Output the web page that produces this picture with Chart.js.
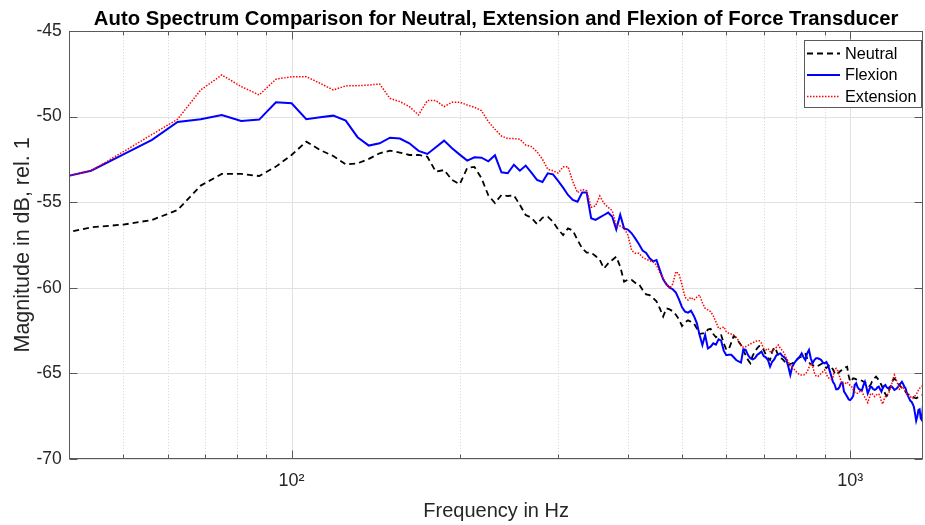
<!DOCTYPE html>
<html>
<head>
<meta charset="utf-8">
<script src="https://cdn.jsdelivr.net/npm/chart.js@4.4.1/dist/chart.umd.min.js"></script>
<style>
html,body{margin:0;padding:0;background:#ffffff;}
canvas{display:block;}
</style>
</head>
<body>
<canvas id="c" width="925" height="525"></canvas>
<script>
// ---- data (Hz bins and magnitudes in dB rel. 1) ----
const frequencies = [
37.5, 43.75, 50, 56.25, 62.5, 68.75, 75, 81.25, 87.5, 93.75,
100, 106.25, 112.5, 118.75, 125, 131.25, 137.5, 143.75, 150, 156.25,
162.5, 168.75, 175, 181.25, 187.5, 193.75, 200, 206.25, 212.5, 218.75,
225, 231.25, 237.5, 243.75, 250, 256.25, 262.5, 268.75, 275, 281.25,
287.5, 293.75, 300, 306.25, 312.5, 318.75, 325, 331.25, 337.5, 343.75,
350, 356.25, 362.5, 368.75, 375, 381.25, 387.5, 393.75, 400, 406.25,
412.5, 418.75, 425, 431.25, 437.5, 443.75, 450, 456.25, 462.5, 468.75,
475, 481.25, 487.5, 493.75, 500, 506.25, 512.5, 518.75, 525, 531.25,
537.5, 543.75, 550, 556.25, 562.5, 568.75, 575, 581.25, 587.5, 593.75,
600, 606.25, 612.5, 618.75, 625, 631.25, 637.5, 643.75, 650, 656.25,
662.5, 668.75, 675, 681.25, 687.5, 693.75, 700, 706.25, 712.5, 718.75,
725, 731.25, 737.5, 743.75, 750, 756.25, 762.5, 768.75, 775, 781.25,
787.5, 793.75, 800, 806.25, 812.5, 818.75, 825, 831.25, 837.5, 843.75,
850, 856.25, 862.5, 868.75, 875, 881.25, 887.5, 893.75, 900, 906.25,
912.5, 918.75, 925, 931.25, 937.5, 943.75, 950, 956.25, 962.5, 968.75,
975, 981.25, 987.5, 993.75, 1000, 1006.25, 1012.5, 1018.75, 1025, 1031.25,
1037.5, 1043.75, 1050, 1056.25, 1062.5, 1068.75, 1075, 1081.25, 1087.5, 1093.75,
1100, 1106.25, 1112.5, 1118.75, 1125, 1131.25, 1137.5, 1143.75, 1150, 1156.25,
1162.5, 1168.75, 1175, 1181.25, 1187.5, 1193.75, 1200, 1206.25, 1212.5, 1218.75,
1225, 1231.25, 1237.5, 1243.75, 1250, 1256.25, 1262.5, 1268.75, 1275, 1281.25,
1287.5, 1293.75, 1300, 1306.25, 1312.5, 1318.75, 1325, 1331.25, 1337.5, 1343.75,
1350
];

const neutral = [
-56.93, -56.47, -56.31, -56.04, -55.46, -54.03, -53.35, -53.35, -53.47, -52.92,
-52.24, -51.46, -51.95, -52.30, -52.79, -52.73, -52.47, -52.14, -51.99, -52.10,
-52.24, -52.24, -52.34, -53.22, -53.12, -53.70, -53.95, -53.00, -52.94, -53.60,
-54.60, -55.05, -54.58, -54.64, -54.60, -55.16, -55.75, -55.91, -56.28, -55.91,
-55.85, -56.14, -56.59, -56.92, -56.53, -56.66, -57.21, -57.70, -57.95, -57.95,
-58.15, -58.38, -58.87, -58.58, -58.38, -58.19, -58.77, -59.65, -59.53, -59.55,
-59.72, -59.80, -60.13, -60.39, -60.43, -60.60, -60.80, -61.21, -61.69, -61.21,
-61.27, -61.38, -61.58, -61.85, -62.24, -62.03, -61.91, -61.99, -62.08, -62.38,
-62.71, -62.67, -62.67, -62.45, -62.40, -62.71, -62.90, -62.77, -62.77, -63.25,
-63.62, -63.60, -63.21, -62.81, -62.96, -63.16, -63.35, -63.68, -63.95, -64.23,
-64.42, -63.99, -63.74, -63.55, -63.41, -63.45, -63.64, -63.93, -64.13, -64.23,
-63.74, -63.49, -63.68, -63.99, -64.13, -64.17, -64.31, -64.42, -64.52, -64.46,
-64.42, -64.36, -64.27, -64.15, -64.07, -64.03, -63.93, -63.88, -64.13, -64.38,
-64.46, -64.52, -64.58, -64.62, -64.58, -64.52, -64.46, -64.42, -64.58, -64.70,
-64.62, -64.52, -64.66, -64.77, -64.97, -65.10, -65.01, -64.93, -64.85, -64.81,
-64.73, -64.66, -64.62, -65.16, -65.50, -65.40, -65.30, -65.32, -65.36, -65.40,
-65.40, -65.42, -65.44, -65.50, -65.53, -65.59, -65.63, -65.75, -65.69, -65.50,
-65.40, -65.28, -65.20, -65.30, -65.40, -65.55, -65.69, -65.88, -66.08, -66.22,
-66.33, -66.18, -65.94, -65.75, -65.59, -65.36, -65.32, -65.40, -65.50, -65.59,
-65.69, -65.79, -65.85, -65.90, -65.98, -66.08, -66.18, -66.24, -66.27, -66.31,
-66.37, -66.39, -66.41, -66.45, -66.47, -66.43, -66.41, -66.37, -66.33, -66.29,
-66.27
];

const flexion = [
-53.66, -53.16, -52.20, -51.36, -50.31, -50.15, -49.90, -50.25, -50.17, -49.16,
-49.22, -50.15, -50.04, -49.94, -50.23, -51.20, -51.69, -51.56, -51.23, -51.28,
-51.56, -52.00, -52.18, -51.79, -51.40, -51.85, -52.22, -52.57, -52.38, -52.40,
-52.61, -52.26, -53.25, -53.31, -52.81, -53.16, -52.86, -53.27, -53.70, -53.82,
-53.31, -53.37, -53.76, -54.15, -54.58, -54.87, -54.97, -54.44, -54.44, -55.94,
-56.04, -55.89, -55.75, -55.61, -55.85, -56.59, -55.73, -56.53, -56.60, -56.82,
-57.13, -57.46, -57.83, -57.97, -58.28, -58.46, -58.38, -58.96, -59.51, -59.80,
-60.00, -60.09, -60.29, -60.68, -61.15, -61.40, -61.46, -61.34, -61.65, -62.05,
-62.77, -63.35, -62.77, -63.55, -63.45, -63.25, -63.33, -63.02, -63.10, -63.68,
-63.95, -63.92, -63.92, -64.07, -64.23, -64.31, -64.38, -63.60, -63.64, -63.94,
-64.13, -64.19, -64.13, -63.94, -63.84, -63.74, -64.00, -64.07, -64.23, -64.62,
-64.33, -64.19, -63.96, -63.88, -63.84, -64.00, -64.07, -64.23, -64.62, -65.10,
-64.62, -64.42, -64.27, -64.13, -64.03, -63.84, -64.07, -64.23, -63.84, -63.64,
-64.13, -64.42, -64.23, -64.13, -64.13, -64.17, -64.23, -64.38, -64.42, -64.35,
-64.52, -64.85, -65.16, -65.50, -65.65, -65.94, -65.94, -65.83, -65.59, -65.55,
-66.08, -66.22, -66.37, -66.53, -66.57, -66.47, -66.33, -65.69, -65.59, -65.83,
-65.94, -65.98, -65.98, -65.69, -65.50, -65.79, -66.18, -65.98, -65.79, -65.83,
-65.94, -65.98, -65.94, -65.83, -65.79, -65.94, -66.08, -65.88, -65.75, -65.69,
-65.83, -65.88, -65.83, -65.79, -65.79, -65.88, -65.98, -65.94, -65.88, -65.79,
-65.69, -65.59, -65.50, -65.63, -65.79, -65.88, -66.14, -66.33, -66.47, -66.61,
-66.66, -66.80, -66.96, -67.35, -67.78, -67.54, -67.15, -67.11, -67.64, -67.74,
-66.86
];

const extension = [
-53.66, -53.16, -52.05, -51.04, -50.15, -48.44, -47.56, -48.24, -48.73, -47.81,
-47.66, -47.66, -48.05, -48.44, -48.20, -48.19, -48.15, -48.09, -48.93, -49.12,
-49.41, -49.90, -49.06, -49.06, -49.41, -49.16, -49.15, -49.32, -49.45, -49.65,
-50.29, -50.74, -51.13, -51.28, -51.28, -51.32, -51.66, -51.75, -52.05, -52.49,
-53.08, -53.16, -53.30, -52.94, -52.92, -53.80, -54.44, -54.25, -54.33, -55.30,
-55.22, -54.64, -55.07, -55.30, -55.50, -56.39, -56.39, -56.53, -56.92, -57.83,
-57.99, -57.99, -58.22, -58.34, -58.42, -58.48, -58.67, -59.12, -59.45, -59.78,
-60.04, -59.78, -59.06, -59.20, -59.84, -60.56, -60.72, -60.56, -60.72, -60.56,
-60.43, -60.88, -61.21, -61.30, -61.40, -61.65, -61.99, -62.38, -62.38, -62.28,
-62.57, -62.67, -62.71, -62.79, -62.90, -63.10, -63.35, -63.49, -63.45, -63.37,
-63.29, -63.23, -63.16, -63.10, -63.10, -63.25, -63.55, -63.64, -63.56, -63.74,
-63.80, -63.58, -63.49, -63.35, -63.55, -63.68, -63.84, -64.13, -64.33, -64.58,
-64.66, -64.77, -64.91, -65.01, -65.10, -65.10, -65.10, -65.05, -64.91, -64.66,
-64.42, -64.58, -64.97, -65.16, -65.20, -65.10, -65.01, -64.91, -64.81, -65.05,
-65.26, -65.30, -65.36, -65.24, -64.81, -64.72, -64.85, -65.16, -65.44, -65.63,
-65.67, -65.59, -65.51, -65.63, -65.71, -65.79, -65.98, -66.10, -66.18, -66.18,
-66.12, -66.02, -66.08, -66.27, -66.41, -66.57, -66.72, -66.47, -66.22, -66.18,
-66.29, -66.37, -66.29, -66.22, -66.22, -66.37, -66.66, -66.80, -66.53, -66.37,
-66.29, -66.22, -66.08, -65.83, -65.59, -65.30, -65.10, -65.30, -65.50, -65.69,
-65.94, -65.88, -65.79, -65.83, -65.98, -66.08, -66.18, -66.29, -66.37, -66.37,
-66.43, -66.47, -66.43, -66.33, -66.22, -66.14, -65.98, -65.88, -65.83, -65.79,
-65.69
];

const seriesNames = ['Neutral', 'Flexion', 'Extension'];
const yTickValues = [-70, -65, -60, -55, -50, -45];
const xLabelTicks = [100, 1000];
const xLabelText = ['10\u00B2', '10\u00B3'];
const xMinorGrid = [50, 60, 70, 80, 90, 200, 300, 400, 500, 600, 700, 800, 900];
const xMajorGrid = [100, 1000];

// ---- styling ----
const FONT = "'Liberation Sans', Arial, Helvetica, sans-serif";
const TXT = '#262626';
const styles = [
  {color: '#000000', width: 1.8, dash: [6, 4]},
  {color: '#0000ff', width: 2, dash: []},
  {color: '#ff0000', width: 1.5, dash: [1.5, 1.5]}
];
const valueSets = [neutral, flexion, extension];

const datasets = valueSets.map((vals, k) => ({
  label: seriesNames[k],
  data: frequencies.map((f, i) => ({x: f, y: vals[i]})),
  borderColor: styles[k].color,
  backgroundColor: styles[k].color,
  borderWidth: styles[k].width,
  borderDash: styles[k].dash,
  pointRadius: 0,
  tension: 0,
  fill: false,
  order: 2 - k
}));

function seg(ctx, x1, y1, x2, y2) {
  ctx.beginPath(); ctx.moveTo(x1, y1); ctx.lineTo(x2, y2); ctx.stroke();
}

const framePlugin = {
  id: 'matlabFrame',
  beforeDatasetsDraw(chart) {
    const {ctx, chartArea: a, scales} = chart;
    const xs = scales.x, ys = scales.y;
    ctx.save();
    ctx.lineWidth = 1;
    ctx.strokeStyle = '#e2e2e2';
    yTickValues.forEach(v => {
      const py = Math.round(ys.getPixelForValue(v)) + 0.5;
      seg(ctx, a.left, py, a.right, py);
    });
    ctx.strokeStyle = '#d4d4d4';
    ctx.setLineDash([1, 2]);
    xMinorGrid.forEach(v => {
      const px = Math.round(xs.getPixelForValue(v)) + 0.5;
      seg(ctx, px, a.top, px, a.bottom);
    });
    ctx.setLineDash([]);
    ctx.strokeStyle = '#e2e2e2';
    xMajorGrid.forEach(v => {
      const px = Math.round(xs.getPixelForValue(v)) + 0.5;
      seg(ctx, px, a.top, px, a.bottom);
    });
    ctx.restore();
  },
  afterDatasetsDraw(chart) {
    const {ctx, chartArea: a, scales} = chart;
    const xs = scales.x, ys = scales.y;
    ctx.save();
    ctx.lineWidth = 1;
    ctx.strokeStyle = '#5a5a5a';
    const L = Math.round(a.left) + 0.5, R = Math.round(a.right) - 0.5;
    const T = Math.round(a.top) + 0.5, B = Math.round(a.bottom) - 0.5;
    ctx.strokeRect(L, T, R - L, B - T);
    yTickValues.forEach(v => {
      const py = Math.round(ys.getPixelForValue(v)) + 0.5;
      seg(ctx, L, py, L + 8, py);
      seg(ctx, R, py, R - 8, py);
    });
    xMinorGrid.forEach(v => {
      const px = Math.round(xs.getPixelForValue(v)) + 0.5;
      seg(ctx, px, B, px, B - 4);
      seg(ctx, px, T, px, T + 4);
    });
    xMajorGrid.forEach(v => {
      const px = Math.round(xs.getPixelForValue(v)) + 0.5;
      seg(ctx, px, B, px, B - 8);
      seg(ctx, px, T, px, T + 8);
    });
    // legend
    const bx = 804.5, by = 40.5, bw = 117, bh = 67;
    ctx.fillStyle = '#ffffff';
    ctx.fillRect(bx, by, bw, bh);
    ctx.strokeStyle = '#5a5a5a';
    ctx.strokeRect(bx, by, bw, bh);
    const rows = [53.5, 75, 96.5];
    chart.data.datasets.forEach((ds, k) => {
      const yy = rows[k];
      ctx.strokeStyle = ds.borderColor;
      ctx.lineWidth = ds.borderWidth;
      ctx.setLineDash(ds.borderDash);
      seg(ctx, 807, yy, 840, yy);
      ctx.setLineDash([]);
      ctx.fillStyle = '#000000';
      ctx.font = '16.3px ' + FONT;
      ctx.textBaseline = 'middle';
      ctx.textAlign = 'left';
      ctx.fillText(ds.label, 845, yy + 1);
    });
    ctx.restore();
  }
};

new Chart(document.getElementById('c'), {
  type: 'line',
  data: {datasets},
  plugins: [framePlugin],
  options: {
    responsive: false,
    animation: false,
    devicePixelRatio: 1,
    events: [],
    layout: {padding: {top: 0, right: 2, bottom: 0, left: 0}},
    plugins: {
      legend: {display: false},
      tooltip: {enabled: false},
      title: {
        display: true,
        fullSize: false,
        text: 'Auto Spectrum Comparison for Neutral, Extension and Flexion of Force Transducer',
        color: '#000000',
        font: {family: FONT, size: 20.3, weight: 'bold', lineHeight: 1.2},
        padding: {top: 6.8, bottom: 0}
      }
    },
    scales: {
      x: {
        type: 'logarithmic',
        bounds: 'data',
        min: 40,
        max: 1350,
        afterFit(s) { s.height = 66.3; },
        afterBuildTicks(s) { s.ticks = xLabelTicks.map(v => ({value: v})); },
        grid: {display: false, drawTicks: false},
        border: {display: false},
        ticks: {
          autoSkip: false, maxRotation: 0, minRotation: 0, padding: 12,
          color: TXT, font: {family: FONT, size: 18},
          callback: (v, i) => xLabelText[i]
        },
        title: {
          display: true, text: 'Frequency in Hz', color: TXT,
          font: {family: FONT, size: 20}, padding: {top: 0, bottom: 2}
        }
      },
      y: {
        type: 'linear',
        min: -70,
        max: -45,
        afterFit(s) { s.width = 69.3; },
        afterBuildTicks(s) { s.ticks = yTickValues.map(v => ({value: v})); },
        grid: {display: false, drawTicks: false},
        border: {display: false},
        ticks: {
          padding: 7.6, color: TXT, font: {family: FONT, size: 17.5},
          callback: v => String(v)
        },
        title: {
          display: true, text: 'Magnitude in dB, rel. 1', color: TXT,
          font: {family: FONT, size: 21.5}, padding: {top: 10, bottom: 0}
        }
      }
    }
  }
});
</script>
</body>
</html>
